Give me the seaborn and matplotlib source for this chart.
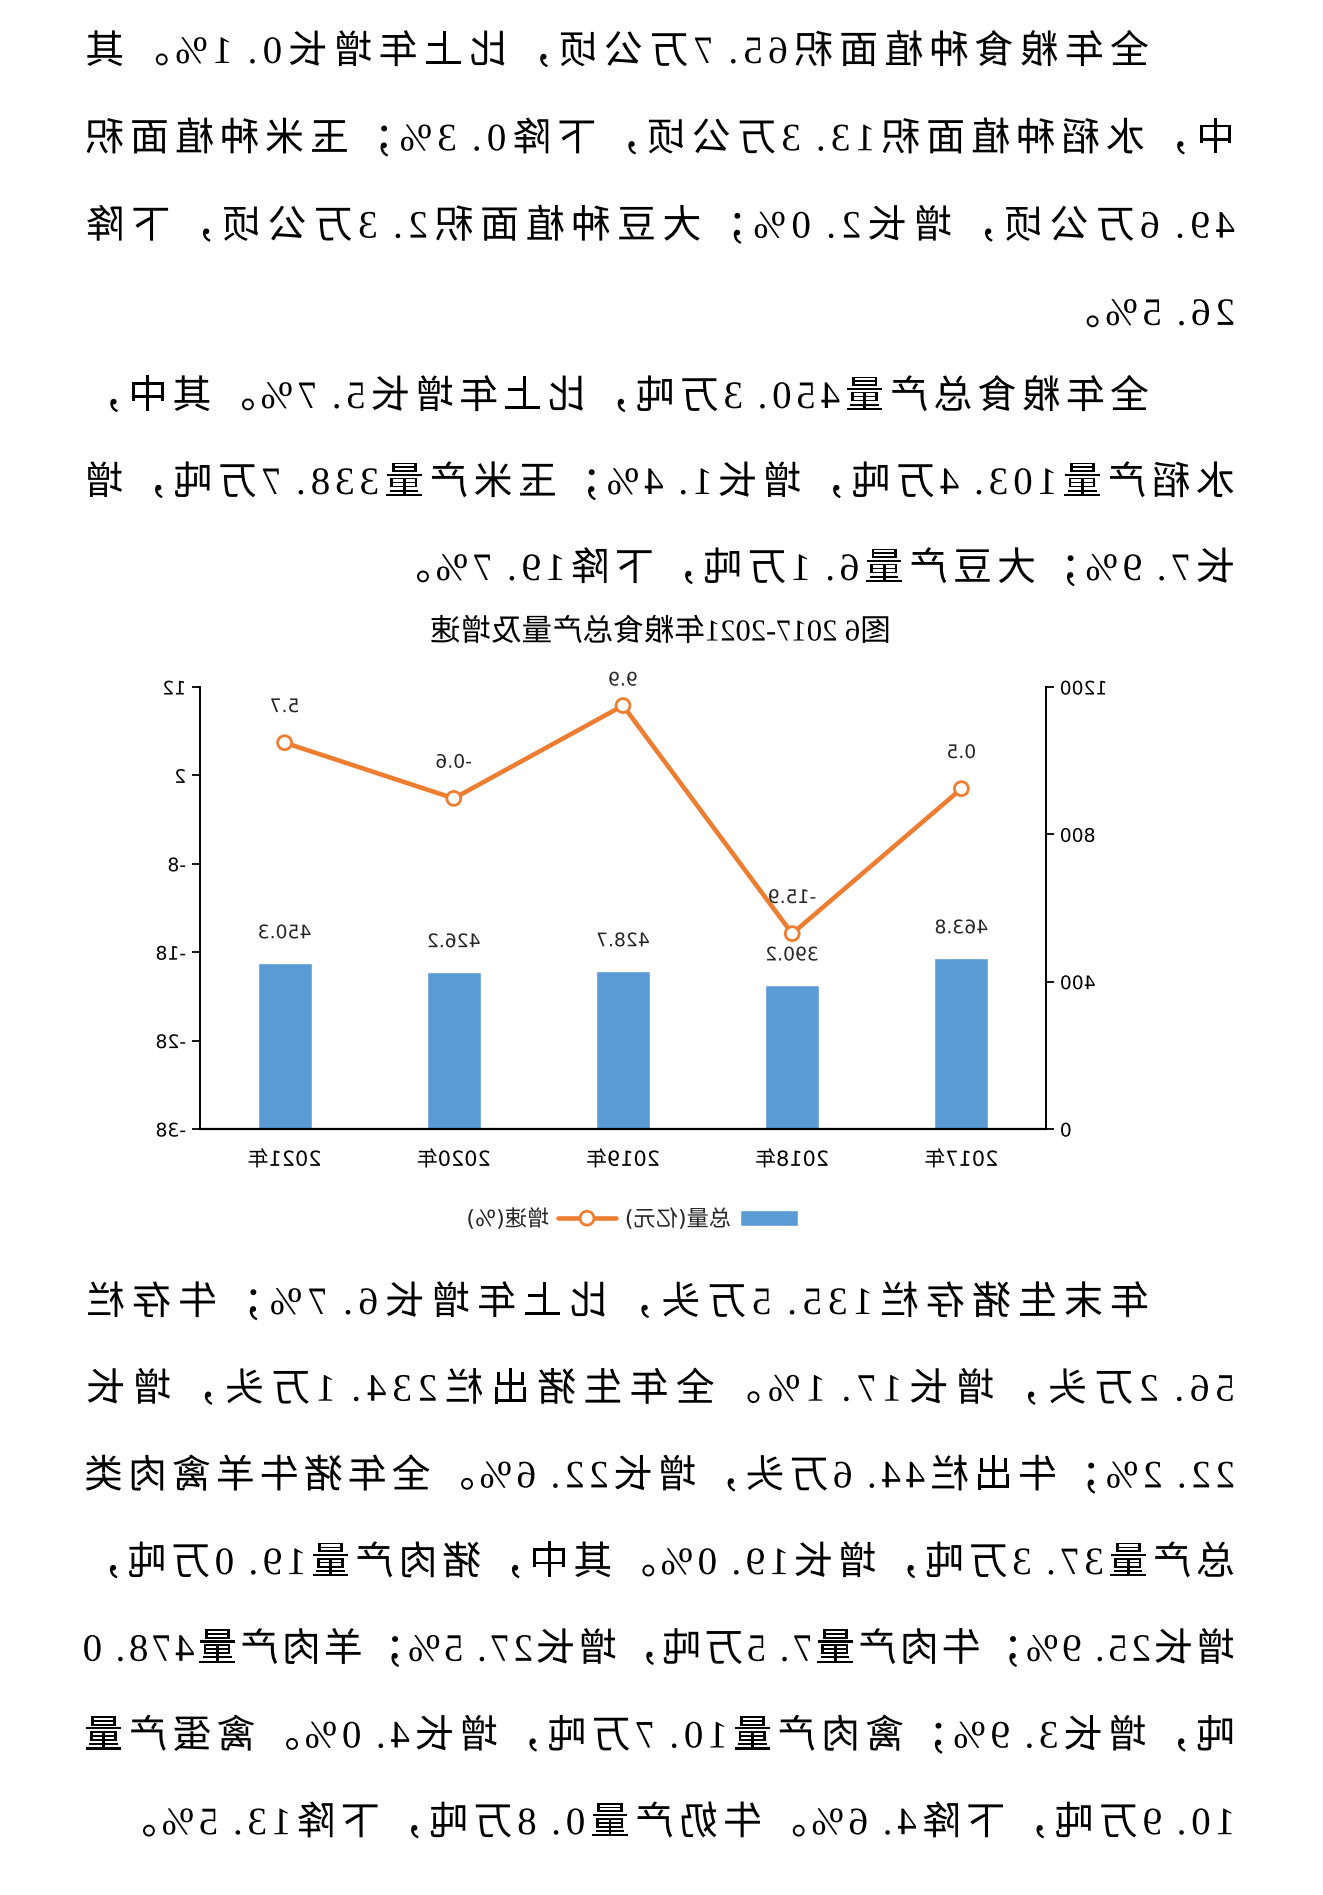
import matplotlib
matplotlib.use('Agg')
import matplotlib.pyplot as plt
from matplotlib.patheffects import AbstractPathEffect
from matplotlib.transforms import Affine2D
from matplotlib.patches import Patch
from matplotlib.lines import Line2D
import seaborn as sns
import numpy as np

# ---- chart data ----
years = ['2017年', '2018年', '2019年', '2020年', '2021年']
total_output = [463.8, 390.2, 428.7, 426.2, 450.3]
growth_rate = [0.5, -15.9, 9.9, -0.6, 5.7]
left_ticks = [0, 400, 800, 1200]
right_ticks = [-38, -28, -18, -8, 2, 12]
legend_labels = ['总量(亿元)', '增速(%)']
chart_title = '图6 2017-2021年粮食总产量及增速'

# ---- body text, one entry per printed line ----
para_area = [
    '全年粮食种植面积65.7万公顷，比上年增长0.1%。其',
    '中，水稻种植面积13.3万公顷，下降0.3%；玉米种植面积',
    '49.6万公顷，增长2.0%；大豆种植面积2.3万公顷，下降',
    '26.5%。',
]
para_grain = [
    '全年粮食总产量450.3万吨，比上年增长5.7%。其中，',
    '水稻产量103.4万吨，增长1.4%；玉米产量338.7万吨，增',
    '长7.9%；大豆产量6.1万吨，下降19.7%。',
]
para_meat = [
    '年末生猪存栏135.5万头，比上年增长6.7%；牛存栏',
    '56.2万头，增长17.1%。全年生猪出栏234.1万头，增长',
    '22.2%；牛出栏44.6万头，增长22.6%。全年猪牛羊禽肉类',
    '总产量37.3万吨，增长19.0%。其中，猪肉产量19.0万吨，',
    '增长25.9%；牛肉产量7.5万吨，增长27.5%；羊肉产量478.0',
    '吨，增长3.9%；禽肉产量10.7万吨，增长4.0%。禽蛋产量',
    '10.9万吨，下降4.6%。牛奶产量0.8万吨，下降13.5%。',
]

W, H = 1323, 1895
BLUE = '#5B9BD5'
ORANGE = '#ED7D31'


class MirrorX(AbstractPathEffect):
    """Draw every path mirrored left-right across the whole canvas."""
    def draw_path(self, renderer, gc, tpath, affine, rgbFace=None):
        flip = affine + Affine2D().scale(-1, 1).translate(renderer.width, 0)
        renderer.draw_path(gc, tpath, flip, rgbFace)


sns.set_theme(style='white')
plt.rcParams['font.family'] = ['DejaVu Sans', 'Noto Sans CJK SC']
plt.rcParams['axes.unicode_minus'] = False
plt.rcParams['path.effects'] = [MirrorX()]

fig = plt.figure(figsize=(W / 100, H / 100), dpi=100)
fig.patch.set_facecolor('white')


def char_weight(c):
    if c == '%':
        return 0.85
    return 0.55 if ord(c) < 128 else 1.0


def put_line(text, x0, y, x1=None, unit=44.2):
    weights = [char_weight(c) for c in text]
    if x1 is not None:
        unit = (x1 - x0) / sum(weights)
    x = x0
    for c, w in zip(text, weights):
        fam = 'Liberation Serif' if ord(c) < 128 else 'Noto Sans CJK SC'
        fig.text(x / W, 1 - y / H, c, fontsize=28, family=fam,
                 color='black', ha='left', va='baseline')
        x += w * unit


def put_paragraph(lines, y_first, step):
    for i, line in enumerate(lines):
        x0 = 174 if i == 0 else 88
        last = i == len(lines) - 1
        put_line(line, x0, y_first + i * step + 15,
                 x1=None if last else 1244)


put_paragraph(para_area, 48, 87.3)
put_paragraph(para_grain, 393, 86)
put_paragraph(para_meat, 1299, 86.7)

fig.text(662 / W, 1 - 633 / H, chart_title, fontsize=22,
         family=['Liberation Serif', 'Noto Sans CJK SC'],
         ha='center', va='center', color='black')

# ---- chart ----
ax = fig.add_axes([277 / W, 1 - 1129 / H, 846 / W, 442 / H])
ax2 = ax.twinx()

sns.barplot(x=years, y=total_output, ax=ax, color=BLUE,
            saturation=1, width=0.32)
sns.lineplot(x=np.arange(len(years)), y=growth_rate, ax=ax2,
             color=ORANGE, linewidth=3.3, marker='o', markersize=10,
             markerfacecolor='white', markeredgecolor=ORANGE,
             markeredgewidth=2, errorbar=None)

ax.set_xlim(-0.5, len(years) - 0.5)
ax.set_ylim(0, 1200)
ax.set_yticks(left_ticks)
ax2.set_ylim(-38, 12)
ax2.set_yticks(right_ticks)
ax.set_xticks(range(len(years)))
ax.set_xticklabels(years)
ax.set_xlabel('')
ax.set_ylabel('')
ax2.set_ylabel('')

ax.bar_label(ax.containers[0], fmt='%.1f', padding=15, fontsize=13.5)

# growth labels sit above the points, but never far above the plot top
lo, hi = ax2.get_ylim()
ax_h_pt = 442 * 72 / 100
for i, v in enumerate(growth_rate):
    room = (hi - v) / (hi - lo) * ax_h_pt
    off = min(26, room + 5)
    ax2.annotate(f'{v:.1f}', (i, v), xytext=(0, off),
                 textcoords='offset points', ha='center', va='center',
                 fontsize=13.5)

ax.tick_params(axis='x', length=0, pad=15, labelsize=15, colors='black')
ax.tick_params(axis='y', direction='out', length=6, width=1.3, pad=4,
               labelsize=13.5, colors='black', left=True)
ax2.tick_params(axis='y', direction='out', length=6, width=1.3, pad=4,
                labelsize=13.5, colors='black', right=True)

for side in ['top', 'right']:
    ax.spines[side].set_visible(False)
for side in ['top', 'left', 'bottom']:
    ax2.spines[side].set_visible(False)
ax.spines['left'].set_color('black')
ax.spines['left'].set_linewidth(1.4)
ax.spines['bottom'].set_color('black')
ax.spines['bottom'].set_linewidth(1.6)
ax2.spines['right'].set_color('black')
ax2.spines['right'].set_linewidth(1.4)
ax.grid(False)
ax2.grid(False)

handles = [Patch(facecolor=BLUE),
           Line2D([0], [0], color=ORANGE, lw=3.3, marker='o', ms=10,
                  mfc='white', mec=ORANGE, mew=2)]
fig.legend(handles, legend_labels, loc='center',
           bbox_to_anchor=(691 / W, 1 - 1219 / H), ncol=2, frameon=False,
           fontsize=16, handlelength=2.6, handleheight=0.7,
           columnspacing=0.4, handletextpad=0.4)

# the mirrored drawing must not be clipped by the un-mirrored axes box
fig.canvas.draw()
for a in fig.findobj():
    if hasattr(a, 'set_clip_on'):
        a.set_clip_on(False)

fig.savefig('out.png', dpi=100, facecolor='white')
plt.close(fig)
